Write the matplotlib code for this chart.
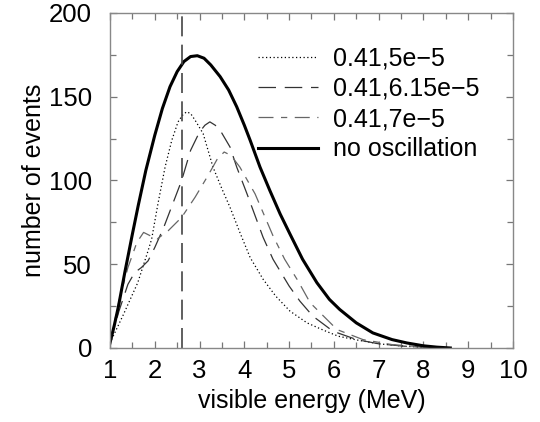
import numpy as np
import matplotlib.pyplot as plt
from matplotlib.ticker import MultipleLocator

plt.rcParams['font.family'] = ['Liberation Sans', 'DejaVu Sans']

# values
e_noosc = [1.0, 1.1, 1.19, 1.33, 1.5, 1.63, 1.8, 2.0, 2.17, 2.34, 2.5, 2.65, 2.8, 2.95, 3.1, 3.25, 3.46, 3.65, 3.83, 4.0, 4.13, 4.35, 4.57, 4.8, 5.02, 5.3, 5.62, 5.9, 6.13, 6.5, 6.87, 7.3, 7.63, 8.0, 8.3, 8.6]
n_noosc = [3, 14, 25, 45, 68, 85, 106, 127, 143, 156, 165, 171, 174, 174.5, 173, 169, 162, 154, 144, 133, 124, 108, 94, 80, 68, 53, 39, 29, 23, 15, 9, 5, 3, 1.3, 0.5, 0]

e_5 = [1.0, 1.3, 1.62, 1.85, 1.93, 2.07, 2.23, 2.38, 2.52, 2.62, 2.71, 2.8, 2.9, 3.08, 3.3, 3.5, 3.68, 3.9, 4.13, 4.42, 4.7, 5.02, 5.4, 5.76, 6.1, 6.51, 7.0, 7.6, 8.3]
n_5 = [3, 20, 39, 58, 65, 86, 108, 124, 135, 139, 141, 140, 136, 128, 108, 95, 84, 69, 54, 41, 31, 22, 15, 10.7, 7, 4.8, 2.5, 1, 0]

e_615 = [1.0, 1.2, 1.4, 1.55, 1.7, 1.85, 2.0, 2.2, 2.4, 2.6, 2.8, 3.0, 3.12, 3.23, 3.35, 3.46, 3.68, 3.83, 4.06, 4.42, 4.64, 5.0, 5.24, 5.53, 5.98, 6.51, 7.0, 7.6, 8.4]
n_615 = [3, 22, 38, 45, 48, 52, 60, 72, 86, 100, 118, 129, 133, 135, 133, 130, 120, 108, 92, 66, 53, 37, 28, 19, 10, 5, 2.5, 1, 0]

e_7 = [1.0, 1.2, 1.4, 1.6, 1.75, 1.9, 2.05, 2.3, 2.6, 2.9, 3.19, 3.4, 3.55, 3.7, 3.9, 4.24, 4.64, 4.9, 5.2, 5.47, 6.07, 6.65, 7.3, 8.3]
n_7 = [3, 28, 48, 63, 69, 67, 65, 70, 78, 90, 103, 113, 117, 115, 108, 92, 67, 53, 40, 27, 11, 5, 2, 0]

cut_energy = 2.6

fig = plt.figure(figsize=(5.4, 4.22), dpi=100)
ax = fig.add_axes([0.2037, 0.1754, 0.7463, 0.7938])

ax.plot(e_5, n_5, color="black", lw=0.9, ls=(0, (1, 2)), label="0.41,5e\u22125")
ax.plot(e_615, n_615, color="#333333", lw=0.9, ls=(0, (14, 7)), label="0.41,6.15e\u22125")
ax.plot(e_7, n_7, color="#666666", lw=0.9, ls=(0, (12, 6, 5, 6)), label="0.41,7e\u22125")
ax.plot(e_noosc, n_noosc, color="black", lw=2.2, label="no oscillation")
ax.axvline(cut_energy, color="#444444", lw=1.2, ls=(0, (12, 5)))

ax.set_xlim(1, 10)
ax.set_ylim(0, 200)
ax.xaxis.set_major_locator(MultipleLocator(1))
ax.xaxis.set_minor_locator(MultipleLocator(0.5))
ax.yaxis.set_major_locator(MultipleLocator(50))
ax.yaxis.set_minor_locator(MultipleLocator(25))
ax.tick_params(which="both", direction="in", top=True, right=True, color="#777777", width=0.9)
ax.tick_params(which="major", length=5, labelsize=18.5, pad=8)
ax.tick_params(which="minor", length=4)
ax.tick_params(axis="y", pad=13)
for s in ax.spines.values():
    s.set_color("#888888")
    s.set_linewidth(1)

ax.set_xlabel("visible energy (MeV)", fontsize=18, labelpad=4)
ax.set_ylabel("number of events", fontsize=18, labelpad=2)

ax.legend(loc="upper right", bbox_to_anchor=(0.96, 0.952), frameon=False, fontsize=18,
          handlelength=2.4, handletextpad=0.6, labelspacing=0.25, borderaxespad=0.3)

fig.savefig("out.png", dpi=100)
